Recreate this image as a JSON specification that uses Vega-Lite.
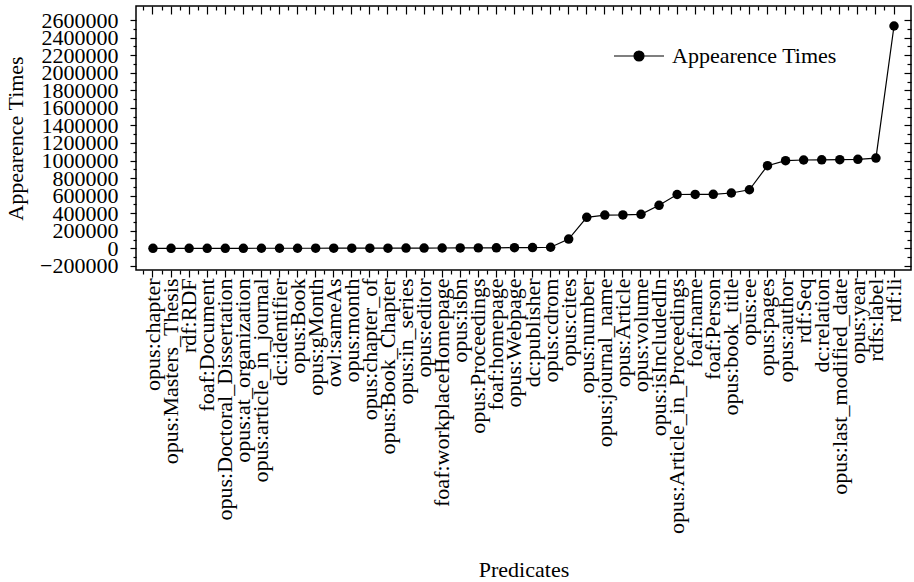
{
  "$schema": "https://vega.github.io/schema/vega-lite/v6.json",
  "width": 775,
  "height": 264,
  "autosize": {"type": "none"},
  "padding": {"left": 136, "top": 6, "right": 3, "bottom": 312},
  "background": "white",
  "config": {
    "view": {"stroke": "black", "strokeWidth": 1.5},
    "font": "Liberation Serif",
    "axis": {
      "domain": false,
      "grid": false,
      "tickColor": "black",
      "tickWidth": 1.2,
      "labelColor": "black",
      "titleColor": "black",
      "labelFont": "Liberation Serif",
      "titleFont": "Liberation Serif",
      "titleFontWeight": "normal",
      "labelLimit": 0
    },
    "legend": {"labelFont": "Liberation Serif", "labelLimit": 0}
  },
  "data": {
    "values": [
      {"predicate": "opus:chapter", "count": 50, "series": "Appearence Times"},
      {"predicate": "opus:Masters_Thesis", "count": 100, "series": "Appearence Times"},
      {"predicate": "rdf:RDF", "count": 150, "series": "Appearence Times"},
      {"predicate": "foaf:Document", "count": 200, "series": "Appearence Times"},
      {"predicate": "opus:Doctoral_Dissertation", "count": 300, "series": "Appearence Times"},
      {"predicate": "opus:at_organization", "count": 400, "series": "Appearence Times"},
      {"predicate": "opus:article_in_journal", "count": 500, "series": "Appearence Times"},
      {"predicate": "dc:identifier", "count": 600, "series": "Appearence Times"},
      {"predicate": "opus:Book", "count": 800, "series": "Appearence Times"},
      {"predicate": "opus:gMonth", "count": 1000, "series": "Appearence Times"},
      {"predicate": "owl:sameAs", "count": 1200, "series": "Appearence Times"},
      {"predicate": "opus:month", "count": 1500, "series": "Appearence Times"},
      {"predicate": "opus:chapter_of", "count": 1800, "series": "Appearence Times"},
      {"predicate": "opus:Book_Chapter", "count": 2000, "series": "Appearence Times"},
      {"predicate": "opus:in_series", "count": 2500, "series": "Appearence Times"},
      {"predicate": "opus:editor", "count": 3000, "series": "Appearence Times"},
      {"predicate": "foaf:workplaceHomepage", "count": 3500, "series": "Appearence Times"},
      {"predicate": "opus:isbn", "count": 4000, "series": "Appearence Times"},
      {"predicate": "opus:Proceedings", "count": 5000, "series": "Appearence Times"},
      {"predicate": "foaf:homepage", "count": 6000, "series": "Appearence Times"},
      {"predicate": "opus:Webpage", "count": 7000, "series": "Appearence Times"},
      {"predicate": "dc:publisher", "count": 8000, "series": "Appearence Times"},
      {"predicate": "opus:cdrom", "count": 12000, "series": "Appearence Times"},
      {"predicate": "opus:cites", "count": 105000, "series": "Appearence Times"},
      {"predicate": "opus:number", "count": 353000, "series": "Appearence Times"},
      {"predicate": "opus:journal_name", "count": 379000, "series": "Appearence Times"},
      {"predicate": "opus:Article", "count": 380000, "series": "Appearence Times"},
      {"predicate": "opus:volume", "count": 387000, "series": "Appearence Times"},
      {"predicate": "opus:isIncludedIn", "count": 490000, "series": "Appearence Times"},
      {"predicate": "opus:Article_in_Proceedings", "count": 613000, "series": "Appearence Times"},
      {"predicate": "foaf:name", "count": 614000, "series": "Appearence Times"},
      {"predicate": "foaf:Person", "count": 615000, "series": "Appearence Times"},
      {"predicate": "opus:book_title", "count": 630000, "series": "Appearence Times"},
      {"predicate": "opus:ee", "count": 667000, "series": "Appearence Times"},
      {"predicate": "opus:pages", "count": 941000, "series": "Appearence Times"},
      {"predicate": "opus:author", "count": 998000, "series": "Appearence Times"},
      {"predicate": "rdf:Seq", "count": 1006000, "series": "Appearence Times"},
      {"predicate": "dc:relation", "count": 1008000, "series": "Appearence Times"},
      {"predicate": "opus:last_modified_date", "count": 1010000, "series": "Appearence Times"},
      {"predicate": "opus:year", "count": 1014000, "series": "Appearence Times"},
      {"predicate": "rdfs:label", "count": 1028000, "series": "Appearence Times"},
      {"predicate": "rdf:li", "count": 2532000, "series": "Appearence Times"}
    ]
  },
  "encoding": {
    "x": {
      "field": "predicate",
      "type": "nominal",
      "sort": null,
      "bandPosition": 0.5,
      "scale": {"type": "band", "paddingInner": 0, "paddingOuter": 0.44}
    },
    "y": {
      "field": "count",
      "type": "quantitative",
      "scale": {"domain": [-247000, 2760000], "nice": false, "zero": false}
    }
  },
  "layer": [
    {
      "mark": {"type": "line", "color": "black", "strokeWidth": 1.2},
      "encoding": {
        "x": {
          "field": "predicate", "type": "nominal", "sort": null, "bandPosition": 0.5,
          "axis": {
            "orient": "bottom", "title": "Predicates", "titleFontSize": 22,
            "titleY": 306, "titleBaseline": "alphabetic",
            "labelAngle": 270, "labelFontSize": 22, "labelPadding": 1,
            "labelOverlap": false, "labelBound": false, "labelFlush": false,
            "tickSize": 7, "bandPosition": 0.5
          }
        },
        "y": {
          "field": "count", "type": "quantitative",
          "axis": {
            "orient": "left", "title": "Appearence Times", "titleFontSize": 22, "titlePadding": 12,
            "values": [-200000, 0, 200000, 400000, 600000, 800000, 1000000, 1200000, 1400000, 1600000, 1800000, 2000000, 2200000, 2400000, 2600000],
            "format": "d", "labelFontSize": 22, "labelPadding": 12, "labelOverlap": false,
            "labelBound": false, "labelFlush": false, "tickSize": 6
          }
        }
      }
    },
    {
      "mark": {"type": "point", "filled": true, "size": 90, "opacity": 1, "shape": "circle"},
      "encoding": {
        "x": {"field": "predicate", "type": "nominal", "sort": null, "bandPosition": 0.5, "axis": null},
        "y": {"field": "count", "type": "quantitative", "axis": null},
        "color": {
          "field": "series", "type": "nominal",
          "scale": {"domain": ["Appearence Times"], "range": ["black"]},
          "legend": {
            "title": null, "orient": "none", "legendX": 477, "legendY": 24,
            "padding": 0, "symbolSize": 2500, "labelLimit": 0,
            "symbolType": "M-1,0L-0.2,0M0.2,0L1,0M-0.2,0A0.2,0.2,0,1,1,0.2,0A0.2,0.2,0,1,1,-0.2,0Z",
            "symbolFillColor": "black", "symbolStrokeColor": "black", "symbolStrokeWidth": 1.2,
            "labelFontSize": 22, "labelOffset": 7, "labelColor": "black",
            "encode": {"symbols": {"update": {"stroke": {"value": "black"}, "strokeWidth": {"value": 1.2}, "fill": {"value": "black"}, "opacity": {"value": 1}}}}
          }
        }
      }
    },
    {
      "mark": {"type": "point", "opacity": 0},
      "encoding": {
        "x": {
          "field": "predicate", "type": "nominal", "sort": null, "bandPosition": 0.5,
          "axis": {"orient": "bottom", "title": null, "labels": false, "tickSize": 4, "bandPosition": 0}
        },
        "y": {
          "field": "count", "type": "quantitative",
          "axis": {
            "orient": "left", "title": null, "labels": false, "tickSize": 3,
            "values": [-100000, 100000, 300000, 500000, 700000, 900000, 1100000, 1300000, 1500000, 1700000, 1900000, 2100000, 2300000, 2500000]
          }
        }
      }
    },
    {
      "mark": {"type": "point", "opacity": 0},
      "encoding": {
        "x": {
          "field": "predicate", "type": "nominal", "sort": null, "bandPosition": 0.5,
          "axis": {"orient": "top", "title": null, "labels": false, "tickSize": -8, "bandPosition": 0.5}
        },
        "y": {
          "field": "count", "type": "quantitative",
          "axis": {
            "orient": "right", "title": null, "labels": false, "tickSize": -7,
            "values": [-200000, 0, 200000, 400000, 600000, 800000, 1000000, 1200000, 1400000, 1600000, 1800000, 2000000, 2200000, 2400000, 2600000]
          }
        }
      }
    },
    {
      "mark": {"type": "point", "opacity": 0},
      "encoding": {
        "x": {
          "field": "predicate", "type": "nominal", "sort": null, "bandPosition": 0.5,
          "axis": {"orient": "top", "title": null, "labels": false, "tickSize": -4, "bandPosition": 0}
        },
        "y": {
          "field": "count", "type": "quantitative",
          "axis": {
            "orient": "right", "title": null, "labels": false, "tickSize": -4,
            "values": [-100000, 100000, 300000, 500000, 700000, 900000, 1100000, 1300000, 1500000, 1700000, 1900000, 2100000, 2300000, 2500000]
          }
        }
      }
    }
  ],
  "resolve": {"axis": {"x": "independent", "y": "independent"}}
}
